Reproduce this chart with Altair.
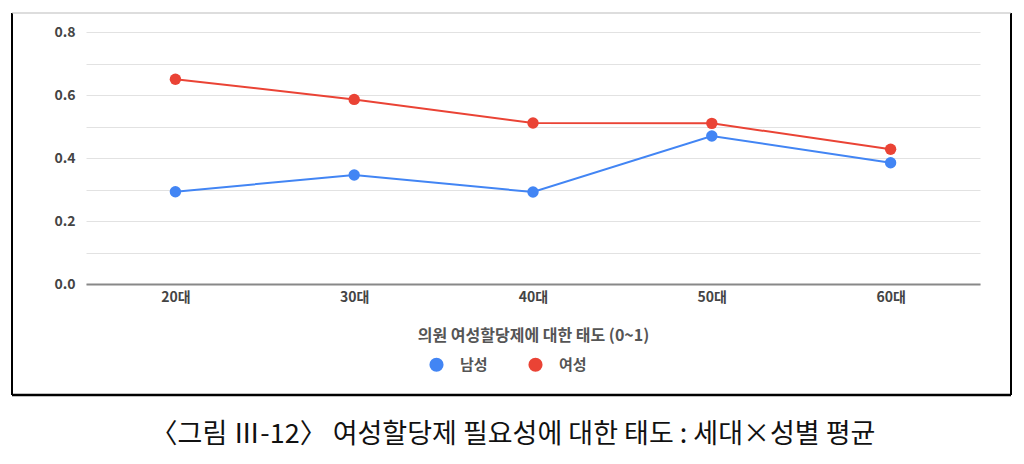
import pandas as pd
import altair as alt

ages = ["20대", "30대", "40대", "50대", "60대"]
male = [0.293, 0.346, 0.292, 0.470, 0.385]
female = [0.650, 0.586, 0.511, 0.510, 0.428]
series = ["남성", "여성"]
colors = ["#4285F4", "#EA4335"]
grid_values = [0.0, 0.1, 0.2, 0.3, 0.4, 0.5, 0.6, 0.7, 0.8]

font = "Noto Sans CJK KR"
caption = "〈그림 Ⅲ-12〉 여성할당제 필요성에 대한 태도 : 세대×성별 평균"
x_title = "의원 여성할당제에 대한 태도 (0~1)"

df = pd.concat([
	pd.DataFrame({"age": ages, "value": male, "sex": series[0]}),
	pd.DataFrame({"age": ages, "value": female, "sex": series[1]}),
], ignore_index = True)

x = alt.X("age:N", sort = ages, title = x_title,
	scale = alt.Scale(type = "point", padding = 0.5),
	axis = alt.Axis(labelAngle = 0, ticks = False, tickSize = 0, labelPadding = 6,
		labelFontSize = 14, labelFontWeight = "bold", labelColor = "#444",
		titleFontSize = 16, titleFontWeight = "bold", titleColor = "#555", titlePadding = 23,
		domainColor = "#888", domainWidth = 2, grid = False))
y = alt.Y("value:Q", title = None,
	scale = alt.Scale(domain = [0, 0.8], nice = False),
	axis = alt.Axis(values = grid_values, ticks = False, tickSize = 0, domain = False,
		labelExpr = "round(datum.value * 10) % 2 == 0 ? format(datum.value, '.1f') : ''",
		labelFontSize = 14, labelFontWeight = "bold", labelColor = "#444", labelPadding = 11,
		gridColor = "#e2e2e2", gridWidth = 1))
color = alt.Color("sex:N", sort = series, title = None,
	scale = alt.Scale(domain = series, range = colors),
	legend = alt.Legend(orient = "none", legendX = 343, legendY = 325, direction = "horizontal",
		symbolType = "circle", symbolSize = 200, symbolStrokeWidth = 0, labelFontSize = 15,
		labelColor = "#555", labelFontWeight = "bold", labelOffset = 16, columnPadding = 40))

lines = alt.Chart(df).mark_line(strokeWidth = 2).encode(x = x, y = y, color = color)
points = alt.Chart(df).mark_point(filled = True, size = 130, opacity = 1).encode(x = x, y = y, color = color)

frame_df = pd.DataFrame({"k": [0]})
frame = alt.Chart(frame_df)
left = frame.mark_rule(color = "black", strokeWidth = 2).encode(x = alt.value(-74), y = alt.value(-19), y2 = alt.value(363))
right = frame.mark_rule(color = "black", strokeWidth = 2).encode(x = alt.value(925), y = alt.value(-19), y2 = alt.value(363))
top = frame.mark_rule(color = "#bbb", strokeWidth = 1).encode(x = alt.value(-74), x2 = alt.value(925), y = alt.value(-19))
bottom = frame.mark_rule(color = "black", strokeWidth = 2.5).encode(x = alt.value(-74), x2 = alt.value(925), y = alt.value(363))

chart = alt.layer(lines, points, left, right, top, bottom).properties(
	width = 894, height = 252,
	padding = {"left": 78, "top": 24, "right": 36, "bottom": 172},
	autosize = alt.AutoSizeParams(type = "none"),
	title = alt.TitleParams(caption, orient = "bottom", anchor = "middle", frame = "group",
		fontSize = 27, fontWeight = "normal", color = "#111", font = font, offset = 26, dx = -20),
).configure(font = font).configure_view(stroke = None)

chart.save("out.html", embed_options = {"renderer": "svg", "actions": False})
